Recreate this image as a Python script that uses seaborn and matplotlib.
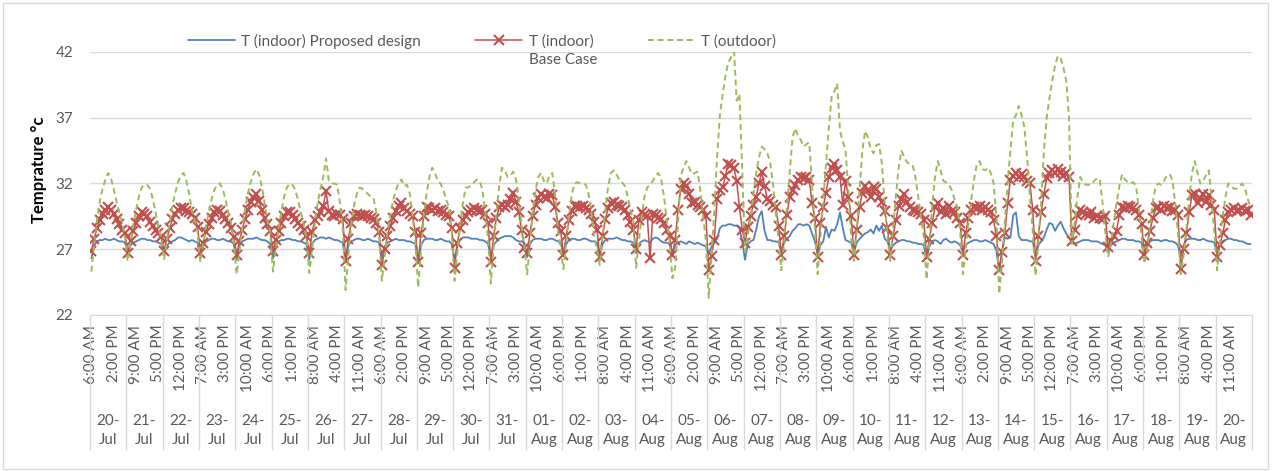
import numpy as np
import pandas as pd
import seaborn as sns
import matplotlib.pyplot as plt
from matplotlib.patches import Rectangle

# Categorias del eje: dias y horas registradas (6 AM a 6 PM)
days = ["20-Jul", "21-Jul", "22-Jul", "23-Jul", "24-Jul", "25-Jul", "26-Jul", "27-Jul",
        "28-Jul", "29-Jul", "30-Jul", "31-Jul", "01-Aug", "02-Aug", "03-Aug", "04-Aug",
        "05-Aug", "06-Aug", "07-Aug", "08-Aug", "09-Aug", "10-Aug", "11-Aug", "12-Aug",
        "13-Aug", "14-Aug", "15-Aug", "16-Aug", "17-Aug", "18-Aug", "19-Aug", "20-Aug"]
hours = ["6:00 AM", "7:00 AM", "8:00 AM", "9:00 AM", "10:00 AM", "11:00 AM", "12:00 PM",
         "1:00 PM", "2:00 PM", "3:00 PM", "4:00 PM", "5:00 PM", "6:00 PM"]

# T (indoor) Proposed design - una fila por dia
t_proposed = [
    26.3, 27.3, 27.6, 27.7, 27.7, 27.8, 27.7, 27.7, 27.8, 27.7, 27.6, 27.6, 27.5,
    26.8, 27.3, 27.5, 27.6, 27.7, 27.8, 27.8, 27.7, 27.7, 27.6, 27.6, 27.5, 27.4,
    26.9, 27.3, 27.5, 27.6, 27.7, 27.9, 27.9, 27.8, 27.7, 27.6, 27.7, 27.6, 27.5,
    26.5, 27.3, 27.6, 27.7, 27.8, 27.8, 27.7, 27.7, 27.8, 27.7, 27.6, 27.6, 27.4,
    26.2, 27.3, 27.6, 27.7, 27.8, 27.8, 27.8, 27.9, 27.8, 27.7, 27.7, 27.6, 27.4,
    26.3, 27.3, 27.6, 27.7, 27.7, 27.8, 27.8, 27.7, 27.7, 27.6, 27.6, 27.5, 27.4,
    26.2, 27.4, 27.7, 27.8, 27.9, 27.9, 27.8, 27.9, 27.8, 27.7, 27.7, 27.6, 27.5,
    26.0, 27.3, 27.6, 27.7, 27.8, 27.8, 27.7, 27.7, 27.8, 27.7, 27.6, 27.6, 27.5,
    26.2, 27.2, 27.5, 27.6, 27.7, 27.8, 27.7, 27.7, 27.7, 27.6, 27.6, 27.5, 27.4,
    26.0, 27.3, 27.7, 27.8, 27.8, 27.8, 27.7, 27.7, 27.8, 27.7, 27.6, 27.6, 27.4,
    26.1, 27.3, 27.7, 27.9, 27.9, 27.9, 27.8, 27.8, 27.8, 27.7, 27.7, 27.6, 27.4,
    26.4, 27.3, 27.6, 27.8, 27.9, 28.0, 28.0, 28.0, 27.9, 27.7, 27.6, 27.6, 27.5,
    26.4, 27.4, 27.7, 27.8, 27.8, 27.8, 27.7, 27.7, 27.8, 27.8, 27.7, 27.6, 27.5,
    26.6, 27.4, 27.7, 27.8, 27.8, 27.7, 27.7, 27.8, 27.8, 27.7, 27.6, 27.6, 27.5,
    26.5, 27.4, 27.7, 27.8, 27.8, 27.8, 27.9, 27.8, 27.7, 27.7, 27.6, 27.6, 27.5,
    26.7, 27.4, 27.6, 27.7, 27.6, 27.5, 27.8, 27.9, 27.8, 27.6, 27.5, 27.5, 27.4,
    26.6, 27.3, 27.5, 27.6, 27.5, 27.4, 27.6, 27.5, 27.4, 27.5, 27.4, 27.3, 27.2,
    26.6, 27.2, 27.5, 27.8, 28.6, 28.8, 28.8, 28.9, 28.9, 28.8, 28.8, 28.6, 27.6,
    26.2, 27.4, 27.6, 27.7, 28.5, 29.5, 29.9, 28.4, 27.7, 27.7, 27.6, 27.6, 27.5,
    26.8, 27.5, 27.8, 28.0, 28.4, 28.6, 28.9, 28.9, 28.8, 28.9, 28.8, 28.2, 27.6,
    26.6, 27.3, 27.6, 28.7, 27.9, 28.5, 28.4, 28.9, 29.8, 28.6, 27.7, 27.6, 27.5,
    26.8, 27.5, 27.8, 28.0, 28.2, 28.3, 28.5, 28.2, 28.8, 28.4, 28.8, 27.8, 27.6,
    26.9, 27.3, 27.5, 27.6, 27.7, 27.7, 27.6, 27.6, 27.5, 27.5, 27.4, 27.4, 27.3,
    26.3, 27.2, 27.6, 27.7, 27.6, 27.4, 27.7, 27.8, 27.6, 27.5, 27.6, 27.5, 27.3,
    26.8, 27.3, 27.5, 27.6, 27.7, 27.7, 27.6, 27.6, 27.7, 27.6, 27.5, 27.4, 26.9,
    25.3, 26.8, 27.9, 27.8, 27.9, 29.6, 29.8, 28.0, 27.7, 27.7, 27.7, 27.6, 27.6,
    26.5, 27.3, 27.6, 27.9, 28.5, 29.0, 28.9, 28.4, 28.8, 29.1, 28.6, 28.2, 27.9,
    27.5, 27.4, 27.5, 27.6, 27.7, 27.7, 27.7, 27.6, 27.6, 27.6, 27.5, 27.4, 27.3,
    26.8, 27.3, 27.5, 27.6, 27.7, 27.8, 27.8, 27.7, 27.7, 27.7, 27.6, 27.6, 27.5,
    26.4, 27.3, 27.6, 27.7, 27.7, 27.7, 27.6, 27.7, 27.7, 27.6, 27.6, 27.5, 27.3,
    26.4, 27.3, 27.7, 27.8, 27.8, 27.8, 27.7, 27.7, 27.8, 27.7, 27.6, 27.6, 27.5,
    26.8, 27.4, 27.6, 27.7, 27.8, 27.8, 27.7, 27.7, 27.6, 27.6, 27.5, 27.4, 27.4,
]

# T (indoor) Base Case
t_base = [
    26.9, 27.8, 28.6, 29.2, 29.7, 30.0, 30.2, 30.0, 29.7, 29.3, 28.9, 28.5, 28.2,
    26.7, 27.6, 28.4, 29.0, 29.5, 29.8, 29.7, 29.5, 29.1, 28.8, 28.5, 28.2, 27.9,
    26.9, 27.8, 28.6, 29.3, 29.7, 30.0, 30.1, 30.1, 29.9, 29.8, 29.7, 29.4, 28.7,
    26.7, 27.5, 28.3, 28.9, 29.4, 29.8, 30.0, 29.9, 29.6, 29.3, 29.0, 28.6, 27.9,
    26.6, 27.6, 28.5, 29.3, 30.0, 30.6, 31.0, 31.2, 30.7, 30.0, 29.4, 28.9, 28.4,
    26.9, 27.7, 28.4, 29.0, 29.5, 29.8, 29.8, 29.6, 29.3, 29.0, 28.8, 28.5, 28.0,
    26.7, 28.3, 29.2, 29.5, 29.8, 30.3, 31.4, 29.9, 29.6, 29.5, 29.7, 29.6, 29.3,
    26.1, 27.8, 29.0, 29.5, 29.7, 29.6, 29.5, 29.6, 29.5, 29.4, 29.3, 29.0, 28.3,
    25.8, 27.0, 28.0, 28.8, 29.4, 29.9, 30.3, 30.5, 30.1, 29.9, 29.7, 29.5, 28.3,
    26.0, 28.2, 29.5, 30.2, 30.1, 30.0, 30.1, 29.9, 30.0, 29.8, 29.6, 29.5, 28.6,
    25.6, 27.5, 28.6, 29.2, 29.5, 29.8, 30.0, 30.1, 30.0, 29.9, 30.0, 29.7, 29.0,
    26.0, 28.0, 29.4, 30.2, 30.4, 30.2, 30.4, 30.8, 31.3, 30.6, 29.8, 28.5, 27.1,
    26.7, 28.2, 29.5, 30.4, 30.9, 31.2, 31.0, 30.9, 31.2, 31.1, 30.2, 29.0, 28.4,
    26.6, 28.0, 29.2, 29.9, 30.3, 30.3, 30.2, 30.3, 30.1, 30.0, 29.7, 29.1, 28.5,
    26.4, 28.0, 29.3, 30.1, 30.5, 30.6, 30.4, 30.3, 30.2, 30.0, 29.6, 29.1, 28.5,
    27.0, 29.2, 29.8, 29.6, 29.5, 26.3, 29.7, 29.6, 29.4, 29.3, 29.0, 28.5, 28.0,
    26.6, 27.7, 30.0, 31.6, 32.0, 31.8, 31.2, 30.5, 30.6, 30.4, 30.2, 30.0, 29.5,
    25.4, 26.5, 27.7, 30.8, 31.5, 31.7, 32.6, 33.5, 33.4, 33.2, 32.2, 30.2, 28.5,
    27.5, 28.7, 29.5, 30.4, 31.0, 32.0, 32.9, 31.8, 30.8, 30.7, 30.4, 30.2, 28.8,
    26.6, 28.0, 29.6, 31.0, 31.5, 31.9, 32.3, 32.5, 32.4, 32.5, 32.3, 30.5, 29.4,
    26.4, 29.0, 30.2, 31.3, 32.5, 33.2, 33.5, 33.0, 32.5, 30.4, 32.2, 31.0, 29.5,
    26.6, 28.5, 30.2, 31.3, 31.8, 31.5, 31.0, 31.7, 31.6, 31.0, 30.6, 29.9, 28.6,
    26.6, 28.0, 29.2, 30.3, 30.8, 31.2, 30.6, 30.2, 30.0, 29.9, 29.8, 29.7, 29.2,
    26.4, 27.8, 29.0, 30.2, 30.5, 29.8, 30.1, 29.7, 30.3, 29.9, 29.8, 29.4, 29.0,
    26.6, 28.2, 29.4, 30.0, 30.2, 30.1, 30.3, 30.0, 30.2, 30.0, 29.8, 29.2, 28.0,
    25.4, 26.8, 28.2, 30.5, 32.3, 32.6, 32.8, 32.5, 32.7, 32.5, 32.2, 32.0, 30.0,
    26.1, 28.0, 29.8, 31.2, 32.4, 32.8, 33.0, 32.8, 33.1, 32.9, 32.6, 32.8, 32.5,
    27.6, 28.5, 29.6, 30.0, 29.8, 29.7, 29.6, 29.8, 29.4, 29.5, 29.4, 29.3, 29.5,
    27.2, 27.6, 28.0, 28.4, 29.6, 30.2, 30.1, 30.3, 30.2, 30.1, 30.0, 29.6, 28.9,
    26.6, 27.5, 28.4, 29.4, 30.1, 30.2, 30.0, 30.3, 30.1, 30.2, 29.9, 30.0, 29.6,
    25.5, 27.0, 28.2, 29.8, 31.1, 31.2, 30.5, 30.9, 31.2, 30.6, 31.1, 30.4, 30.0,
    26.4, 27.3, 28.2, 29.2, 29.8, 30.0, 30.1, 29.9, 30.0, 30.1, 29.9, 30.0, 29.6,
]

# T (outdoor)
t_outdoor = [
    25.3, 27.4, 29.2, 30.6, 31.6, 32.3, 32.8, 32.4, 31.6, 30.6, 29.8, 29.0, 28.0,
    26.1, 27.5, 28.9, 30.0, 31.0, 31.7, 31.9, 31.9, 31.6, 30.8, 29.8, 28.7, 27.8,
    26.2, 27.6, 29.0, 30.3, 31.3, 32.1, 32.6, 32.8, 32.2, 31.2, 30.0, 29.2, 28.3,
    26.0, 27.4, 28.7, 29.8, 30.8, 31.5, 31.9, 32.0, 31.6, 30.8, 29.8, 29.0, 27.5,
    25.1, 26.8, 28.6, 30.0, 31.2, 32.1, 32.7, 33.1, 32.7, 31.8, 30.5, 29.2, 28.3,
    25.3, 27.0, 28.6, 29.9, 31.0, 31.7, 32.0, 31.9, 31.5, 30.7, 29.8, 28.9, 27.8,
    25.2, 27.0, 29.0, 30.5, 31.6, 32.5, 33.9, 32.2, 32.0, 32.0, 31.9, 30.5, 28.5,
    23.9, 26.5, 28.8, 30.3, 31.2, 31.7, 31.6, 31.4, 31.2, 31.0, 30.9, 29.8, 28.0,
    24.6, 26.5, 28.3, 29.6, 30.7, 31.5, 32.0, 32.3, 31.8, 31.9, 31.2, 29.5, 27.5,
    24.1, 27.0, 29.5, 31.2, 32.5, 33.2, 32.8, 32.2, 32.0, 31.5, 30.8, 30.2, 28.5,
    24.6, 26.8, 28.8, 30.5, 31.7, 31.7, 31.9, 32.1, 32.3, 32.2, 31.5, 29.8, 27.8,
    24.4, 27.2, 29.8, 31.8, 33.2, 33.0, 32.5, 32.6, 32.9, 32.3, 30.8, 28.9, 27.2,
    25.1, 27.5, 29.8, 31.5, 32.5, 32.8, 32.2, 32.0, 32.6, 32.8, 31.2, 28.5, 27.0,
    25.5, 27.6, 29.6, 31.2, 32.0, 32.1, 32.0, 32.0, 31.9, 31.2, 29.8, 28.0, 26.9,
    25.8, 28.0, 30.0, 31.8, 32.8, 33.0, 32.7, 32.3, 32.1, 31.8, 31.0, 30.0, 29.2,
    25.6, 27.6, 29.5, 31.0, 31.7, 31.9, 32.2, 32.6, 32.8, 32.3, 31.0, 29.2, 27.6,
    24.8, 25.6, 29.0, 32.6, 33.2, 33.7, 33.2, 32.7, 32.8, 32.9, 31.5, 29.5, 27.7,
    23.3, 26.5, 30.0, 34.0, 37.2, 38.8, 40.2, 41.2, 41.6, 42.4, 38.3, 38.8, 33.0,
    26.8, 28.0, 29.5, 31.2, 32.8, 34.0, 34.8, 34.6, 34.3, 33.6, 32.0, 29.8, 27.7,
    25.4, 27.5, 30.2, 33.0, 35.5, 36.2, 35.6, 35.3, 34.8, 35.0, 35.1, 32.0, 28.7,
    25.1, 28.0, 30.8, 33.5, 36.2, 38.6, 39.0, 39.6, 36.0, 35.2, 34.5, 31.5, 27.9,
    26.1, 28.5, 31.5, 34.5, 36.0, 35.5, 34.6, 34.3, 34.9, 35.0, 33.5, 30.5, 28.0,
    26.1, 28.6, 31.0, 33.2, 34.5, 34.0, 33.6, 33.5, 33.4, 32.5, 31.0, 29.4, 28.0,
    24.7, 27.5, 30.3, 32.5, 33.7, 33.0, 32.2, 32.1, 31.9, 31.5, 30.8, 30.2, 28.5,
    25.1, 27.0, 29.0, 30.8, 32.3, 33.5, 33.7, 33.1, 33.0, 33.2, 32.8, 32.0, 29.5,
    23.6, 26.0, 29.0, 32.0, 34.5, 36.8, 37.2, 37.9, 37.2, 36.3, 34.0, 31.0, 28.4,
    25.0, 27.5, 30.5, 34.5, 37.0, 38.5, 39.8, 41.0, 41.7, 41.5, 40.8, 39.8, 37.0,
    27.4, 29.0, 31.0, 32.5, 32.1, 31.9, 31.9, 31.9, 32.2, 32.4, 32.3, 30.5, 28.2,
    26.4, 27.5, 29.0, 30.5, 31.8, 32.7, 32.3, 32.1, 32.0, 32.1, 31.8, 30.0, 28.0,
    25.9, 27.0, 28.8, 30.6, 31.8, 32.0, 31.9, 32.2, 32.6, 32.7, 32.3, 30.5, 28.2,
    25.1, 26.5, 28.5, 30.8, 32.8, 33.7, 32.8, 32.0, 32.2, 32.6, 33.0, 31.0, 28.4,
    25.4, 27.5, 29.5, 31.0, 32.0, 31.8, 31.6, 31.6, 31.8, 32.0, 31.6, 30.8, 30.2,
]

n_h = len(hours)
n = len(days) * n_h
df = pd.DataFrame({"idx": np.arange(n), "proposed": t_proposed,
                   "base": t_base, "outdoor": t_outdoor})

sns.set_style("white")
plt.rcParams["font.family"] = ["Lato", "DejaVu Sans"]
gris = "#595959"

W, H = 1277, 471
fig = plt.figure(figsize=(W / 100, H / 100), dpi=100)
ax = fig.add_axes([90 / W, 1 - 315 / H, 1162 / W, 263 / H])

sns.lineplot(data=df, x="idx", y="proposed", ax=ax, color="#4F81BD", lw=1.3,
             label="T (indoor) Proposed design")
sns.lineplot(data=df, x="idx", y="base", ax=ax, color="#C0504D", lw=1.1,
             marker="x", markersize=7, markeredgewidth=1.5, markeredgecolor="#C0504D",
             label="T (indoor)")
sns.lineplot(data=df, x="idx", y="outdoor", ax=ax, color="#9BBB59", lw=1.4,
             linestyle=(0, (3, 2)), label="T (outdoor)")

ax.set_xlim(-0.5, n - 0.5)
ax.set_ylim(22, 42)
ax.set_yticks([22, 27, 32, 37, 42])
ax.yaxis.grid(True, color="#d9d9d9", lw=1)
ax.xaxis.grid(False)
for s in ["left", "top", "right"]:
    ax.spines[s].set_visible(False)
ax.spines["bottom"].set_color("#d9d9d9")

# etiquetas de hora cada 8 categorias
ticks = list(range(0, n, 8))
ax.set_xticks(ticks)
ax.set_xticklabels([hours[k % n_h] for k in ticks], rotation=90, fontsize=11, color=gris)
ax.tick_params(axis="x", length=0, pad=7)
ax.tick_params(axis="y", length=0, pad=12, labelsize=11, labelcolor=gris)
ax.set_xlabel("")
ax.set_ylabel("Temprature °c", fontsize=12, fontweight="bold", color="black")
ax.yaxis.set_label_coords(-0.037, 0.551)

# segundo nivel: dias y separadores
trans = ax.get_xaxis_transform()
for d, day in enumerate(days):
    ax.text(d * n_h + (n_h - 1) / 2, -0.44, day.replace("-", "-\n"), transform=trans,
            ha="center", va="center", fontsize=11, color=gris, linespacing=1.45)
ax.vlines([d * n_h - 0.5 for d in range(len(days) + 1)], -0.513, 0, transform=trans,
          colors="#d9d9d9", lw=1, clip_on=False)

# leyenda
handles, labels = ax.get_legend_handles_labels()
ax.get_legend().remove()
leg = fig.legend(handles, labels, loc="center left", bbox_to_anchor=(180 / W, 1 - 41 / H),
                 ncol=3, frameon=False, fontsize=11, handlelength=3.1, handletextpad=0.4,
                 columnspacing=3.55, borderpad=0, labelcolor=gris)

# "Base Case" debajo de la segunda entrada
fig.canvas.draw()
bb = leg.get_texts()[1].get_window_extent()
fig.text(bb.x0 / W, (bb.y0 - 4) / H, "Base Case", ha="left", va="top",
         fontsize=11, color=gris)

fig.add_artist(Rectangle((3 / W, 2 / H), 1265 / W, 466 / H, transform=fig.transFigure,
                         fill=False, edgecolor="#d9d9d9", lw=1))

fig.savefig("out.png", dpi=100)
